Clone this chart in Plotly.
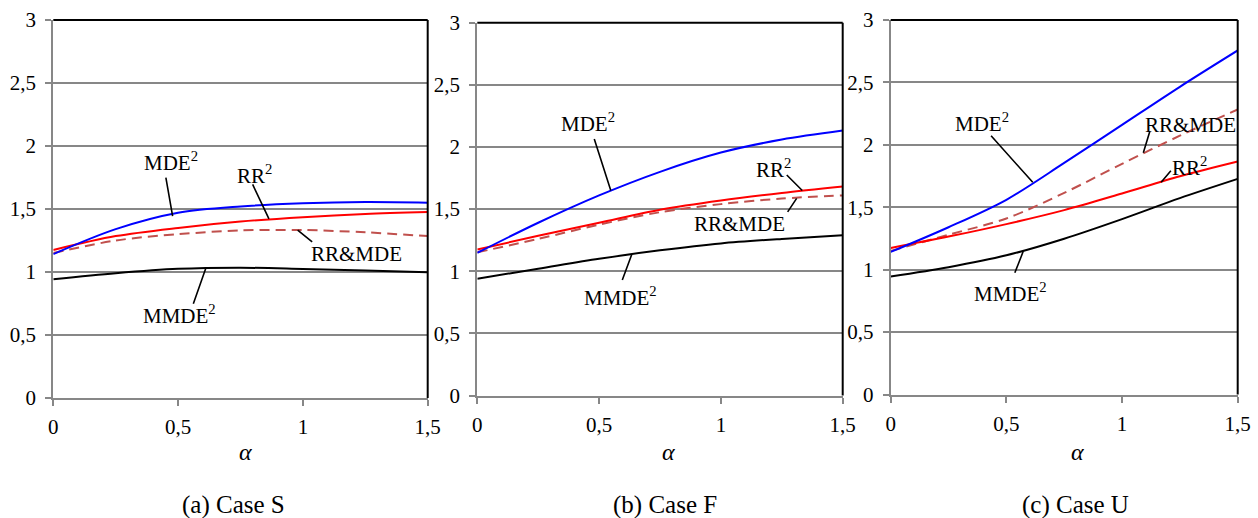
import plotly.graph_objects as go

# alpha grid shared by all three cases
alpha = [0, 0.25, 0.5, 0.75, 1.0, 1.25, 1.5]

# (a) Case S
s_mde2 = [1.142, 1.34, 1.47, 1.52, 1.545, 1.555, 1.55]
s_rr2 = [1.175, 1.285, 1.35, 1.40, 1.435, 1.46, 1.476]
s_rrmde = [1.15, 1.25, 1.30, 1.33, 1.333, 1.315, 1.285]
s_mmde2 = [0.942, 0.99, 1.025, 1.034, 1.024, 1.012, 0.998]

# (b) Case F
f_mde2 = [1.148, 1.39, 1.61, 1.80, 1.955, 2.06, 2.132]
f_rr2 = [1.175, 1.285, 1.39, 1.495, 1.57, 1.63, 1.682]
f_rrmde = [1.152, 1.26, 1.375, 1.475, 1.54, 1.585, 1.61]
f_mmde2 = [0.94, 1.02, 1.10, 1.168, 1.224, 1.26, 1.289]

# (c) Case U
u_mde2 = [1.142, 1.34, 1.56, 1.855, 2.16, 2.465, 2.756]
u_rr2 = [1.174, 1.265, 1.365, 1.477, 1.61, 1.748, 1.866]
u_rrmde = [1.15, 1.28, 1.41, 1.615, 1.848, 2.073, 2.283]
u_mmde2 = [0.946, 1.02, 1.115, 1.248, 1.405, 1.573, 1.727]

y_tickvals = [0, 0.5, 1, 1.5, 2, 2.5, 3]
y_ticktext = ["0", "0,5", "1", "1,5", "2", "2,5", "3"]
x_tickvals = [0, 0.5, 1, 1.5]
x_ticktext = ["0", "0,5", "1", "1,5"]

captions = ["(a) Case S", "(b) Case F", "(c) Case U"]

FONT = "Liberation Serif"
W, H = 1258, 518

# panel boxes in pixels: left, right, top, bottom
boxes = [(53.3, 427.7, 20, 398), (477.3, 842.7, 22.7, 395.5), (890.7, 1237.7, 20, 394.5)]

series = [
    (s_mde2, s_rr2, s_rrmde, s_mmde2),
    (f_mde2, f_rr2, f_rrmde, f_mmde2),
    (u_mde2, u_rr2, u_rrmde, u_mmde2),
]

# labels: (text, head alpha, head value, tail dx, tail dy, text dx, text dy) in px
labels = [
    [
        ("MDE<sup>2</sup>", 0.478, 1.444, -7, -40, -2, 55),
        ("RR<sup>2</sup>", 0.864, 1.421, -17, -36, -14, 44),
        ("RR&amp;MDE", 0.979, 1.333, 16, 13, 59, -24),
        ("MMDE<sup>2</sup>", 0.611, 1.03, -13, 37, -26, -46),
    ],
    [
        ("MDE<sup>2</sup>", 0.548, 1.65, -17, -53, -23, 68),
        ("RR<sup>2</sup>", 1.334, 1.65, -17, -17, -29, 22),
        ("RR&amp;MDE", 1.311, 1.586, -10, 15, -57, -26),
        ("MMDE<sup>2</sup>", 0.634, 1.134, -10, 27, -11, -42),
    ],
    [
        ("MDE<sup>2</sup>", 0.614, 1.70, -43, -48, -51, 60),
        ("RR&amp;MDE", 1.092, 1.936, 7, -23, 47, 28),
        ("RR<sup>2</sup>", 1.169, 1.70, 11, -13, 28, 16),
        ("MMDE<sup>2</sup>", 0.573, 1.147, -9, 23, -13, -41),
    ],
]

alpha_label_x = [245.7, 668, 1077]
caption_x = [233.5, 665, 1075]

fig = go.Figure()
annotations = []
shapes = []
GRID = "#878787"

for i in range(3):
    n = "" if i == 0 else str(i + 1)
    xa, ya = "x" + n, "y" + n
    mde2, rr2, rrmde, mmde2 = series[i]
    fig.add_trace(go.Scatter(x=alpha, y=mmde2, mode="lines", xaxis=xa, yaxis=ya,
                             line=dict(color="black", width=2, shape="spline", smoothing=0.9)))
    fig.add_trace(go.Scatter(x=alpha, y=rrmde, mode="lines", xaxis=xa, yaxis=ya,
                             line=dict(color="#c0504d", width=2, dash="10px,6px",
                                       shape="spline", smoothing=0.9)))
    fig.add_trace(go.Scatter(x=alpha, y=rr2, mode="lines", xaxis=xa, yaxis=ya,
                             line=dict(color="#ff0000", width=2, shape="spline", smoothing=0.9)))
    fig.add_trace(go.Scatter(x=alpha, y=mde2, mode="lines", xaxis=xa, yaxis=ya,
                             line=dict(color="#0000ff", width=2, shape="spline", smoothing=0.9)))

    left, right, top, bottom = boxes[i]
    fig.update_layout({
        "xaxis" + n: dict(
            domain=[left / W, right / W], anchor=ya, range=[0, 1.5], automargin=False,
            tickvals=x_tickvals, ticktext=x_ticktext, showgrid=False, zeroline=False,
            showline=True, linecolor=GRID, linewidth=2,
            ticks="outside", ticklen=6, tickwidth=2, tickcolor=GRID, ticklabelstandoff=3,
            tickfont=dict(family=FONT, size=21, color="black"), fixedrange=True,
        ),
        "yaxis" + n: dict(
            domain=[1 - bottom / H, 1 - top / H], anchor=xa, range=[0, 3], automargin=False,
            tickvals=y_tickvals, ticktext=y_ticktext, showgrid=True, gridcolor=GRID,
            gridwidth=2, zeroline=False, showline=True, linecolor=GRID, linewidth=2,
            ticks="outside", ticklen=6, tickwidth=2, tickcolor=GRID, ticklabelstandoff=5,
            tickfont=dict(family=FONT, size=21, color="black"), fixedrange=True,
        ),
    })

    # black top and right borders of the plot frame
    shapes.append(dict(type="line", xref=xa + " domain", yref=ya + " domain",
                       x0=0, x1=1, y0=1, y1=1, line=dict(color="black", width=2)))
    shapes.append(dict(type="line", xref=xa + " domain", yref=ya + " domain",
                       x0=1, x1=1, y0=0, y1=1, line=dict(color="black", width=2)))

    for text, hx, hy, tdx, tdy, sdx, sdy in labels[i]:
        # leader line
        annotations.append(dict(x=hx, y=hy, xref=xa, yref=ya, text="", showarrow=True,
                                arrowhead=0, arrowwidth=1.6, arrowcolor="black",
                                ax=tdx, ay=tdy, standoff=0, startstandoff=0))
        # label text
        annotations.append(dict(x=hx, y=hy, xref=xa, yref=ya, text=text, showarrow=False,
                                xshift=sdx, yshift=sdy, xanchor="center", yanchor="middle",
                                font=dict(family=FONT, size=21, color="black")))

    annotations.append(dict(x=alpha_label_x[i] / W, y=1 - 452 / H, xref="paper", yref="paper",
                            text="<i>α</i>", showarrow=False, xanchor="center", yanchor="middle",
                            font=dict(family=FONT, size=24, color="black")))
    annotations.append(dict(x=caption_x[i] / W, y=1 - 505 / H, xref="paper", yref="paper",
                            text=captions[i], showarrow=False, xanchor="center", yanchor="middle",
                            font=dict(family=FONT, size=25, color="black")))

fig.update_layout(
    template="none",
    width=W, height=H, margin=dict(l=0, r=0, t=0, b=0, autoexpand=False),
    font=dict(family=FONT, size=20, color="black"),
    paper_bgcolor="white", plot_bgcolor="white", showlegend=False,
    annotations=annotations, shapes=shapes,
)

fig.write_html("out.html")
